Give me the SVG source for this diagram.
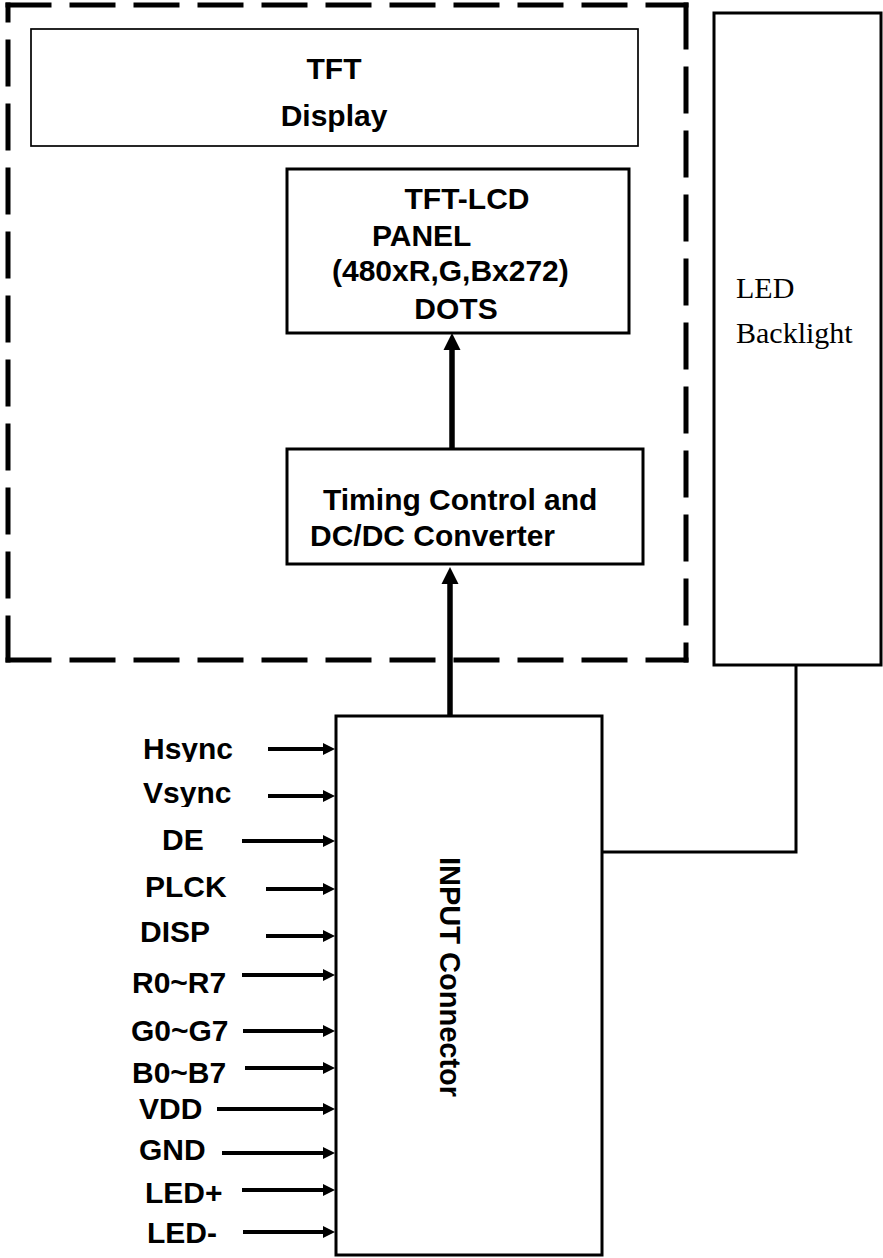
<svg xmlns="http://www.w3.org/2000/svg" width="883" height="1258" viewBox="0 0 883 1258">
<style>
.b{font-family:"Liberation Sans",Arial,sans-serif;font-weight:bold;font-size:30px;fill:#000}
.s{font-family:"Liberation Serif","Times New Roman",serif;font-size:30px;fill:#000}
.box{fill:#fff;stroke:#000;stroke-width:3}
.dash{fill:none;stroke:#000;stroke-width:5;stroke-linecap:square}
.in{stroke:#000;stroke-width:4;fill:none}
.main{stroke:#000;stroke-width:5.5;fill:none}
</style>
<defs>
<marker id="ah" markerUnits="userSpaceOnUse" markerWidth="12" markerHeight="12" viewBox="0 0 12 12" refX="0" refY="6" orient="auto" overflow="visible">
<path d="M0,0 L12,6 L0,12 z" fill="#000"/>
</marker>
<marker id="ahb" markerUnits="userSpaceOnUse" markerWidth="17" markerHeight="17" viewBox="0 0 17 17" refX="0" refY="8.5" orient="auto" overflow="visible">
<path d="M0,0 L17,8.5 L0,17 z" fill="#000"/>
</marker>
<clipPath id="c1"><rect x="130" y="720" width="120" height="42"/></clipPath>
<clipPath id="c2"><rect x="130" y="770" width="120" height="37"/></clipPath>
</defs>

<g id="module-border">
<path class="dash" d="M8,5 H686" stroke-dasharray="41 23"/>
<path class="dash" d="M8,660 H686" stroke-dasharray="41 23"/>
<path class="dash" d="M686,5 V660" stroke-dasharray="42 22"/>
<path class="dash" d="M8,660 V5" stroke-dasharray="42 22"/>
</g>

<g id="tft-display">
<rect x="31" y="29" width="607" height="117" fill="#fff" stroke="#000" stroke-width="1.7"/>
<text class="b" x="334" y="79" text-anchor="middle">TFT</text>
<text class="b" x="334" y="126" text-anchor="middle">Display</text>
</g>

<g id="tft-lcd-panel">
<rect class="box" x="287" y="169" width="342" height="164"/>
<text class="b" x="467" y="209" text-anchor="middle">TFT-LCD</text>
<text class="b" x="372" y="246">PANEL</text>
<text class="b" x="332" y="281">(480xR,G,Bx272)</text>
<text class="b" x="456" y="319" text-anchor="middle">DOTS</text>
</g>

<g id="timing-control">
<rect class="box" x="287" y="449" width="356" height="115"/>
<text class="b" x="323" y="510">Timing Control and</text>
<text class="b" x="310" y="546">DC/DC Converter</text>
</g>

<g id="led-backlight">
<rect class="box" x="714" y="13" width="167" height="652"/>
<text class="s" x="736" y="298">LED</text>
<text class="s" x="736" y="343">Backlight</text>
</g>

<g id="input-connector">
<rect class="box" x="336" y="716" width="266" height="539"/>
<text class="b" style="font-size:29px" transform="translate(440,857) rotate(90)">INPUT Connector</text>
</g>

<g id="signal-labels">
<text class="b" x="143" y="759" clip-path="url(#c1)">Hsync</text>
<text class="b" x="143" y="803" clip-path="url(#c2)">Vsync</text>
<text class="b" x="162" y="850">DE</text>
<text class="b" x="145" y="897">PLCK</text>
<text class="b" x="140" y="942">DISP</text>
<text class="b" x="132" y="993">R0~R7</text>
<text class="b" x="131" y="1041">G0~G7</text>
<text class="b" x="132" y="1083">B0~B7</text>
<text class="b" x="139" y="1119">VDD</text>
<text class="b" x="139" y="1160">GND</text>
<text class="b" x="145" y="1203">LED+</text>
<text class="b" x="147" y="1243">LED-</text>
</g>

<g id="connectors">
<line class="main" x1="452" y1="449" x2="452" y2="350" marker-end="url(#ahb)"/>
<line class="main" x1="450" y1="716" x2="450" y2="584" marker-end="url(#ahb)"/>
<polyline points="796,665 796,852 602,852" fill="none" stroke="#000" stroke-width="3"/>
<line class="in" x1="268" y1="749" x2="323" y2="749" marker-end="url(#ah)"/>
<line class="in" x1="268" y1="796" x2="323" y2="796" marker-end="url(#ah)"/>
<line class="in" x1="242" y1="841" x2="323" y2="841" marker-end="url(#ah)"/>
<line class="in" x1="266" y1="889" x2="323" y2="889" marker-end="url(#ah)"/>
<line class="in" x1="266" y1="936" x2="323" y2="936" marker-end="url(#ah)"/>
<line class="in" x1="242" y1="975" x2="323" y2="975" marker-end="url(#ah)"/>
<line class="in" x1="243" y1="1031" x2="323" y2="1031" marker-end="url(#ah)"/>
<line class="in" x1="245" y1="1068" x2="323" y2="1068" marker-end="url(#ah)"/>
<line class="in" x1="217" y1="1109" x2="323" y2="1109" marker-end="url(#ah)"/>
<line class="in" x1="222" y1="1153" x2="323" y2="1153" marker-end="url(#ah)"/>
<line class="in" x1="242" y1="1190" x2="323" y2="1190" marker-end="url(#ah)"/>
<line class="in" x1="243" y1="1232" x2="323" y2="1232" marker-end="url(#ah)"/>
</g>
</svg>
